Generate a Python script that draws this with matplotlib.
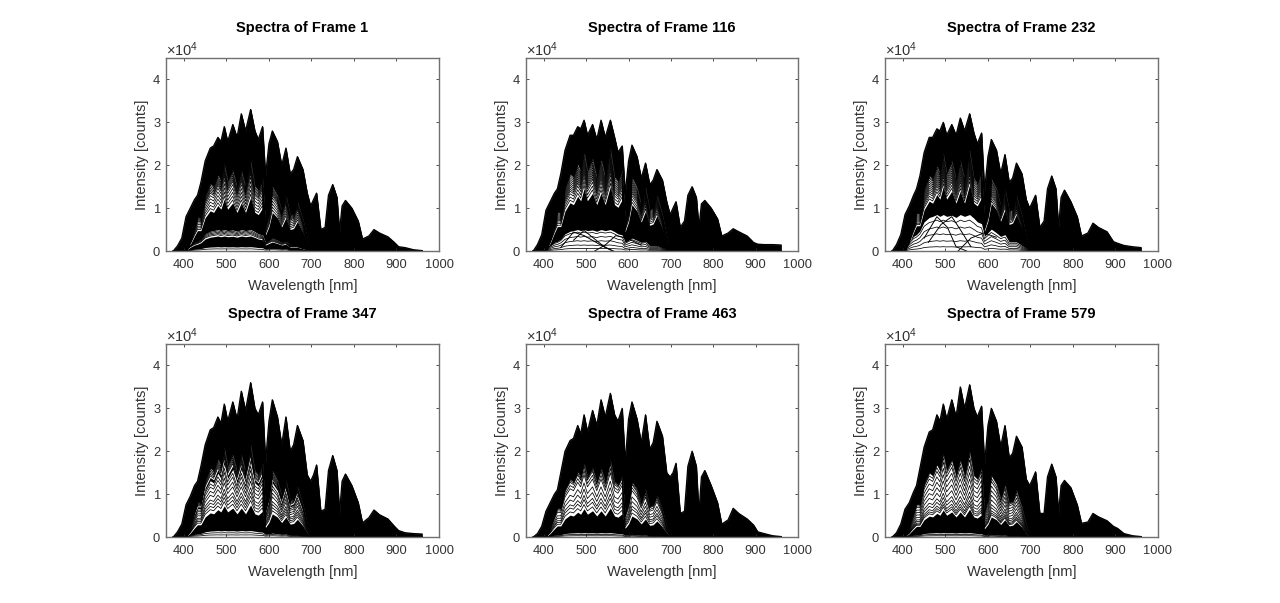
import numpy as np
import matplotlib
matplotlib.use("Agg")
import matplotlib.pyplot as plt
from matplotlib.ticker import ScalarFormatter

plt.rcParams['font.family'] = ['Liberation Sans', 'DejaVu Sans']
plt.rcParams['mathtext.default'] = 'regular'

frames = [1, 116, 232, 347, 463, 579]

wavelength = [375,385,395,405,415,425,432,440,450,462,
              470,480,487,495,503,515,525,535,545,557,
              567,575,585,592,600,608,620,630,640,650,
              658,667,680,690,698,705,712,722,732,740,
              750,760,766,772,780,795,810,820,835,847,
              860,880,895,905,920,940,960]

# Upper envelope of all spectra of each frame, in units of 1e4 counts
env_1 = [0,.12,.3,.8,1.0,1.2,1.3,1.6,2.1,2.4,
         2.45,2.65,2.55,2.9,2.55,2.95,2.65,3.2,2.8,3.3,
         2.8,2.6,2.9,1.75,2.5,2.8,2.55,2.0,2.4,1.8,
         1.9,2.2,1.9,1.35,1.05,1.2,1.35,.5,.55,1.3,
         1.55,1.25,.45,1.05,1.18,1.0,.7,.28,.35,.5,
         .42,.33,.2,.1,.08,.03,.01]
env_116 = [0,.15,.38,.95,1.15,1.35,1.45,1.8,2.35,2.7,
           2.7,2.9,2.85,3.05,2.7,2.95,2.6,3.05,2.65,3.05,
           2.65,2.3,2.45,1.35,2.1,2.47,2.2,1.7,2.05,1.55,
           1.65,1.9,1.65,1.15,.85,1.0,1.15,.55,.7,1.3,
           1.5,1.25,.55,1.1,1.18,1.0,.75,.35,.42,.52,
           .45,.35,.2,.16,.15,.15,.14]
env_232 = [0,.15,.38,.85,1.05,1.3,1.45,1.75,2.3,2.65,
           2.65,2.85,2.8,3.0,2.7,2.95,2.7,3.1,2.8,3.2,
           2.75,2.5,2.75,1.4,2.2,2.6,2.35,1.8,2.25,1.6,
           1.7,2.05,1.8,1.2,1.0,1.15,1.3,.55,.7,1.45,
           1.75,1.45,.55,1.25,1.42,1.15,.8,.35,.42,.65,
           .55,.45,.22,.18,.13,.1,.08]
env_347 = [0,.12,.3,.75,.95,1.2,1.3,1.65,2.15,2.5,
           2.55,2.8,2.65,3.1,2.7,3.15,2.75,3.4,2.95,3.6,
           3.0,2.85,3.15,1.75,2.7,3.2,2.8,2.15,2.8,2.0,
           2.15,2.6,2.25,1.45,1.3,1.45,1.68,.6,.65,1.55,
           1.9,1.55,.55,1.3,1.47,1.2,.8,.33,.45,.63,
           .52,.42,.25,.15,.1,.08,.07]
env_463 = [0,.08,.25,.6,.8,1.0,1.1,1.5,2.0,2.25,
           2.3,2.6,2.4,2.85,2.45,2.95,2.6,3.2,2.8,3.35,
           2.85,2.7,3.0,1.75,2.75,3.15,2.75,2.2,2.85,2.05,
           2.2,2.7,2.35,1.5,1.4,1.5,1.72,.55,.6,1.65,
           2.0,1.65,.55,1.4,1.55,1.2,.8,.3,.4,.67,
           .55,.42,.28,.12,.08,.03,.01]
env_579 = [0,.1,.3,.65,.8,1.05,1.2,1.6,2.1,2.45,
           2.5,2.85,2.7,3.1,2.75,3.2,2.8,3.5,3.0,3.55,
           3.0,2.8,3.05,1.7,2.6,3.0,2.7,2.1,2.6,1.85,
           1.95,2.35,2.1,1.35,1.2,1.35,1.52,.55,.55,1.4,
           1.7,1.4,.55,1.2,1.32,1.15,.75,.32,.35,.55,
           .47,.38,.25,.2,.08,.03,.01]

# Spectral shape of the sparse mid-level spectra (relative to the 557 nm peak)
mid_shape = [0,0,0,0,.12,.28,.38,.38,.62,.75,
             .72,.85,.78,.97,.78,.9,.72,.9,.72,1,
             .72,.68,.8,.3,.45,.72,.62,.45,.62,.4,
             .42,.55,.35,.14,.04,0,0,0,0,0,
             0,0,0,0,0,0,0,0,0,0,
             0,0,0,0,0,0,0]
# Spectral shape of the faint low-level spectra
low_shape = [0,0,0,.05,.25,.4,.45,.55,.8,.92,
             .95,1,.95,1,.95,.98,.92,1,.95,1,
             .9,.8,.75,.4,.5,.6,.5,.4,.45,.25,
             .25,.25,.15,.08,.03,0,0,0,0,0,
             0,0,0,0,0,0,0,0,0,0,
             0,0,0,0,0,0,0]

# Open gaps between the solid bands: lower edge, upper edge, shape, visible spectra
gaps_1 = [(0, .1, 'low', [.05]),
          (.35, .5, 'low', [.38, .41, .44, .47]),
          (1.25, 2.1, 'mid', [1.32,1.42,1.52,1.62,1.72,1.8,1.85,1.9,1.95,2.0,2.05])]
gaps_116 = [(0, .5, 'low', [.06,.14,.24,.34,.44]),
            (1.5, 2.4, 'mid', [1.58,1.68,1.78,1.86,1.92,1.98,2.04,2.1,2.16,2.22,2.28,2.34])]
gaps_232 = [(0, .85, 'low', [.1,.24,.4,.56,.72]),
            (1.55, 2.35, 'mid', [1.62,1.7,1.78,1.84,1.9,1.96,2.02,2.08,2.14,2.2,2.26,2.3])]
gaps_347 = [(0, .15, 'low', [.05,.1]),
            (.75, 1.75, 'mid', [.85,.95,1.05,1.15,1.3,1.42,1.55,1.65]),
            (1.85, 2.15, 'mid', [1.9,1.95,2.0,2.05,2.1])]
gaps_463 = [(0, .1, 'low', [.03,.06]),
            (.68, 1.8, 'mid', [.78,.9,1.0,1.15,1.3,1.5,1.6,1.7,1.75])]
gaps_579 = [(0, .1, 'low', [.03,.06]),
            (.65, 2.0, 'mid', [.72,.78,.85,.95,1.05,1.2,1.35,1.5,1.65,1.8,1.9])]

# Single spectra that cross the others in the open low-level gaps of two frames
cross_wave_116 = [[440,470,495,520,545,565], [470,495,520,540,560], [520,545,570,600,630]]
cross_vals_116 = [[.08,.44,.36,.22,.08,0], [.25,.48,.28,.12,.01], [0,.14,.36,.28,.14]]
cross_wave_232 = [[450,480,505,525,550], [460,490,515,535,560], [530,560,590,620]]
cross_vals_232 = [[.3,.8,.55,.1,0], [.2,.62,.8,.5,.1], [0,.3,.42,.32]]

envelopes = [env_1, env_116, env_232, env_347, env_463, env_579]
gap_sets = [gaps_1, gaps_116, gaps_232, gaps_347, gaps_463, gaps_579]
crossing = {116: (cross_wave_116, cross_vals_116), 232: (cross_wave_232, cross_vals_232)}

W, H = 1280, 603
cols = [(166, 439), (526, 798), (885, 1158)]
rows = [(58, 251), (344, 537)]
GREY = '#333333'

fig = plt.figure(figsize=(W / 100, H / 100), dpi=100, facecolor='white')
x = np.array(wavelength, float)
shapes = {'mid': np.array(mid_shape), 'low': np.array(low_shape)}

for i, (frame, env, gaps) in enumerate(zip(frames, envelopes, gap_sets)):
    l, r = cols[i % 3]
    t, b = rows[i // 3]
    ax = fig.add_axes([l / W, 1 - b / H, (r - l) / W, (b - t) / H])
    env = np.array(env) * 1e4

    lower = np.zeros_like(env)
    for lo, hi, name, levels in gaps:
        s = shapes[name]
        top = np.minimum(lo * s * 1e4, env)
        top = np.where(s > 0, top, lower)
        ax.fill_between(x, lower, top, color='k', lw=0)
        for lv in levels:
            ax.plot(x, np.minimum(lv * s * 1e4, env), color='k', lw=0.55)
        lower = np.minimum(hi * s * 1e4, env)
    ax.fill_between(x, lower, env, color='k', lw=0.5, edgecolor='k')
    ax.plot(x, env, color='k', lw=0.9)
    if frame in crossing:
        for cw, cv in zip(*crossing[frame]):
            ax.plot(cw, np.array(cv) * 1e4, color='k', lw=0.7)

    ax.set_xlim(358, 1000)
    ax.set_ylim(0, 4.5e4)
    ax.set_xticks(range(400, 1001, 100))
    ax.set_yticks([0, 1e4, 2e4, 3e4, 4e4])
    fmt = ScalarFormatter(useMathText=True)
    fmt.set_powerlimits((4, 4))
    ax.yaxis.set_major_formatter(fmt)
    ax.yaxis.OFFSETTEXTPAD = 1.5
    ax.yaxis.get_offset_text().set_fontsize(10.5)
    ax.yaxis.get_offset_text().set_color(GREY)
    ax.tick_params(direction='in', top=True, right=True, length=2.2, width=0.6,
                   labelsize=9.3, colors=GREY)
    ax.tick_params(axis='x', pad=6)
    ax.tick_params(axis='y', pad=3.5)
    for sp in ax.spines.values():
        sp.set_color('#707070')
        sp.set_linewidth(1.0)
    ax.set_xlabel('Wavelength [nm]', fontsize=10.5, color=GREY, labelpad=5.5)
    ax.set_ylabel('Intensity [counts]', fontsize=10.5, color=GREY, labelpad=2)
    ax.set_title(f'Spectra of Frame {frame}', fontsize=10.5, fontweight='bold', pad=19, color='k')

fig.savefig('out.png', dpi=100)
